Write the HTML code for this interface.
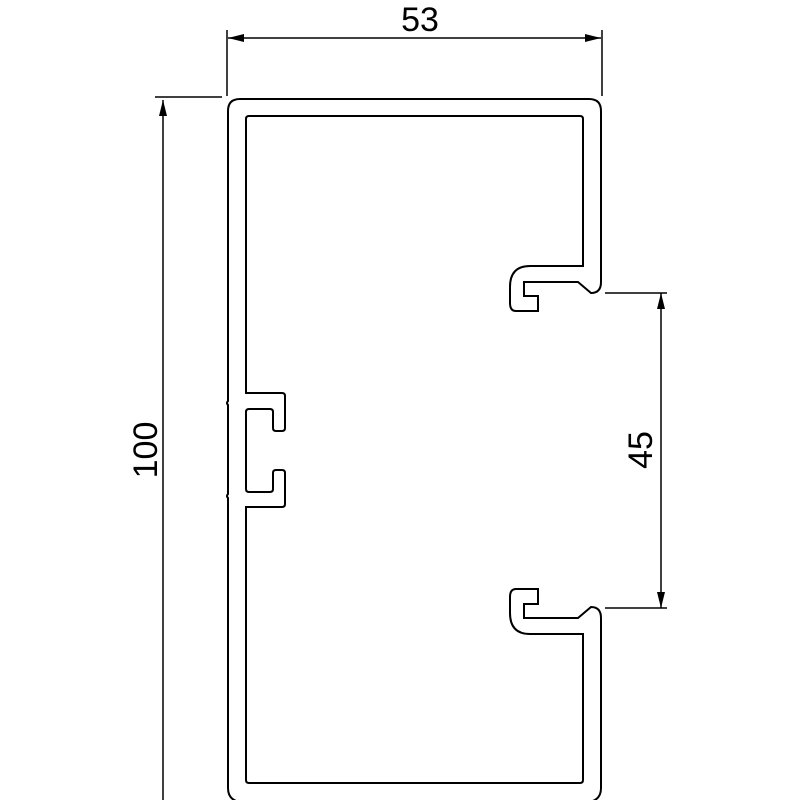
<!DOCTYPE html>
<html><head><style>body{margin:0;background:#fff}svg{display:block}</style></head>
<body>
<svg width="800" height="800" viewBox="0 0 800 800" xmlns="http://www.w3.org/2000/svg">
<g fill="none" stroke="#000" stroke-width="2">
<!-- outer contour -->
<path d="M228 111 Q228 99 240 99 H589 Q601 99 601 111 V282 Q601 293 591 293 L578 282 H524 V296 H538 V311 H516 Q510 311 510 303 V287 Q510 266 530 266 H583 V119 Q583 116 580 116 H249 Q246 116 246 119 V393 H282 Q285 393 285 396 V428 Q285 431 282 431 H276 Q273 431 273 428 V412 Q273 409 270 409 H249 Q246 409 246 412 V489 Q246 492 249 492 H270 Q273 492 273 489 V473 Q273 470 276 470 H282 Q285 470 285 473 V504 Q285 507 282 507 H246 V780 Q246 783 249 783 H580 Q583 783 583 780 V634 H530 Q510 634 510 613 V597 Q510 589 516 589 H538 V604 H524 V618 H578 L591 607 Q601 607 601 618 V788 Q601 800 589 802 M240 802 Q228 800 228 788 V498 Q226 496 228 494 V405 Q226 403 228 401 V111"/>
<!-- dimensions -->
<g stroke-width="1.5">
<path d="M227 30 V96 M602 30 V96 M228 38 H601"/>
<path d="M155 97 H222 M163 100 V800"/>
<path d="M605 293 H667 M605 608 H667 M661 293 V608"/>
</g>
</g>
<g fill="#000">
<path d="M228 38 l16 -4 v8z M601 38 l-16 -4 v8z"/>
<path d="M163 100 l-4 16 h8z"/>
<path d="M661 293 l-4 16 h8z M661 608 l-4 -16 h8z"/>
</g>
<g font-family="Liberation Sans, sans-serif" font-size="34" text-anchor="middle">
<text x="420" y="31">53</text>
<text transform="translate(157 450) rotate(-90)">100</text>
<text transform="translate(652 450) rotate(-90)">45</text>
</g>
</svg>
</body></html>
